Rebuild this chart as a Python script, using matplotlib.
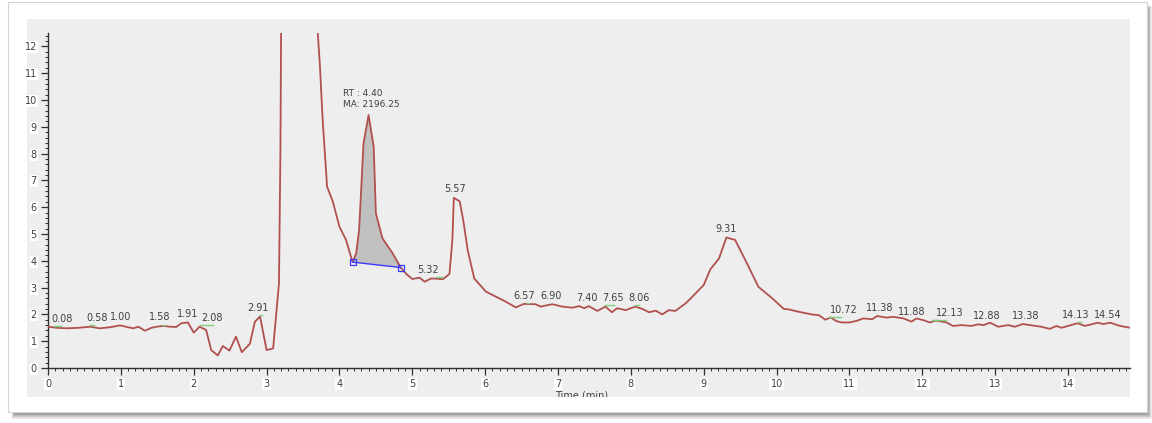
import numpy as np
import matplotlib
matplotlib.use("Agg")
import matplotlib.pyplot as plt
from matplotlib.patches import Rectangle, Polygon
from matplotlib.ticker import MultipleLocator

# Chromatogram trace (retention time in minutes, detector response)
time_min = [0.00, 0.12, 0.26, 0.42, 0.58, 0.71, 0.85, 0.99, 1.10, 1.17, 1.24, 1.33,
            1.42, 1.49, 1.58, 1.68, 1.76, 1.83, 1.92, 2.00, 2.08, 2.17, 2.24, 2.33,
            2.40, 2.49, 2.58, 2.66, 2.77, 2.84, 2.91, 3.00, 3.09, 3.17, 3.19, 3.20,
            3.69, 3.73, 3.77, 3.83, 3.91, 4.00, 4.09, 4.18, 4.23, 4.27, 4.33, 4.40,
            4.47, 4.50, 4.59, 4.73, 4.84, 4.92, 5.00, 5.10, 5.17, 5.26, 5.34, 5.42,
            5.51, 5.55, 5.57, 5.65, 5.70, 5.76, 5.85, 6.01, 6.15, 6.28, 6.42, 6.53,
            6.69, 6.76, 6.92, 7.06, 7.20, 7.29, 7.36, 7.42, 7.54, 7.65, 7.74, 7.81,
            7.93, 8.06, 8.16, 8.25, 8.34, 8.43, 8.52, 8.61, 8.75, 8.84, 9.00, 9.09,
            9.21, 9.31, 9.43, 9.57, 9.75, 9.94, 10.10, 10.16, 10.30, 10.48, 10.58,
            10.67, 10.74, 10.82, 10.89, 11.00, 11.10, 11.19, 11.31, 11.38, 11.51,
            11.60, 11.74, 11.85, 11.92, 12.02, 12.10, 12.19, 12.33, 12.42, 12.54,
            12.67, 12.77, 12.84, 12.93, 13.04, 13.18, 13.27, 13.38, 13.55, 13.63,
            13.75, 13.84, 13.91, 14.00, 14.13, 14.23, 14.41, 14.48, 14.58, 14.70,
            14.85]
response = [1.54, 1.50, 1.48, 1.50, 1.54, 1.48, 1.52, 1.59, 1.52, 1.48, 1.54, 1.39,
            1.50, 1.54, 1.57, 1.54, 1.53, 1.67, 1.70, 1.32, 1.54, 1.42, 0.67, 0.47,
            0.82, 0.65, 1.17, 0.59, 0.90, 1.73, 1.92, 0.67, 0.73, 3.16, 8.13, 13.0,
            13.0, 11.37, 9.25, 6.77, 6.20, 5.27, 4.78, 3.95, 4.28, 5.15, 8.38, 9.44,
            8.26, 5.77, 4.84, 4.28, 3.75, 3.50, 3.32, 3.37, 3.22, 3.34, 3.33, 3.31,
            3.51, 4.78, 6.35, 6.22, 5.50, 4.40, 3.34, 2.85, 2.66, 2.48, 2.26, 2.39,
            2.38, 2.29, 2.38, 2.29, 2.25, 2.31, 2.23, 2.31, 2.13, 2.29, 2.08, 2.23,
            2.16, 2.29, 2.20, 2.08, 2.14, 2.00, 2.16, 2.13, 2.41, 2.65, 3.10, 3.68,
            4.09, 4.87, 4.78, 4.03, 3.03, 2.60, 2.20, 2.19, 2.10, 2.00, 1.97,
            1.80, 1.89, 1.75, 1.70, 1.70, 1.76, 1.85, 1.82, 1.94, 1.88,
            1.91, 1.85, 1.73, 1.85, 1.78, 1.70, 1.77, 1.70, 1.57, 1.60,
            1.57, 1.63, 1.60, 1.69, 1.54, 1.60, 1.54, 1.64, 1.57, 1.54,
            1.46, 1.57, 1.50, 1.57, 1.67, 1.57, 1.69, 1.64, 1.69, 1.58,
            1.50]

# Detected peaks (retention times)
peak_rt = [0.08, 0.58, 1.00, 1.58, 1.91, 2.08, 2.91, 5.32, 5.57, 6.57, 6.90, 7.40,
           7.65, 8.06, 9.31, 10.72, 11.38, 11.88, 12.13, 12.88, 13.38, 14.13, 14.54]
peak_labels = ["0.08", "0.58", "1.00", "1.58", "1.91", "2.08", "2.91", "5.32", "5.57",
               "6.57", "6.90", "7.40", "7.65", "8.06", "9.31", "10.72", "11.38",
               "11.88", "12.13", "12.88", "13.38", "14.13", "14.54"]

# Integrated peak
integ_start, integ_end = 4.18, 4.84
integ_start_y, integ_end_y = 3.95, 3.75
integ_rt_text = "RT : 4.40"
integ_area_text = "MA: 2196.25"

# Layout tweaks for the peak labels (label shift and start-marker width, in minutes)
label_shift = [0.11, 0.09, 0.0, -0.05, 0.0, 0.17, -0.03, -0.10, 0.02, -0.04, 0.0, 0.0,
               0.10, 0.05, 0.0, 0.20, 0.03, -0.02, 0.25, 0.0, 0.04, -0.02, 0.0]
marker_width = [0.10, 0.05, 0.0, 0.03, 0.0, 0.18, 0.03, 0.10, 0.0, 0.03, 0.0, 0.0,
                0.12, 0.05, 0.0, 0.17, 0.0, 0.0, 0.19, 0.0, 0.0, 0.05, 0.0]

W, H = 1152, 423
fig = plt.figure(figsize=(W / 100, H / 100), dpi=100)
fig.patch.set_facecolor("white")


def frect(x0, y0, x1, y1, **kw):
    r = Rectangle((x0 / W, 1 - y1 / H), (x1 - x0) / W, (y1 - y0) / H,
                  transform=fig.transFigure, **kw)
    fig.add_artist(r)
    return r


# Card shadow
for i in range(6):
    frect(8 + 4 + i * 0.3, 2 + 4 + i * 0.3, 1147 + 5 - i * 0.8, 412 + 7 - i * 0.9,
          facecolor="black", edgecolor="none", alpha=0.07, zorder=0)
# Card
frect(8, 2, 1147, 412, facecolor="white", edgecolor="#d4d4d4", linewidth=0.8, zorder=1)
# Plot panel
panel = frect(27, 19, 1130, 397, facecolor="#eeeeee", edgecolor="none", zorder=2)

ax = fig.add_axes([48 / W, 1 - 368 / H, (1130 - 48) / W, (368 - 33) / H], zorder=3)
ax.set_facecolor("#eeeeee")
ax.set_xlim(0, 14.85)
ax.set_ylim(0, 12.5)
for s in ("top", "right"):
    ax.spines[s].set_visible(False)
for s in ("left", "bottom"):
    ax.spines[s].set_color("#303030")
    ax.spines[s].set_linewidth(1.0)

ax.xaxis.set_major_locator(MultipleLocator(1))
ax.xaxis.set_minor_locator(MultipleLocator(0.1))
ax.yaxis.set_major_locator(MultipleLocator(1))
ax.yaxis.set_minor_locator(MultipleLocator(0.2))
ax.tick_params(which="major", length=5, width=0.9, color="#303030",
               labelsize=7, labelcolor="#404040", pad=3)
ax.tick_params(which="minor", length=2.5, width=0.7, color="#303030")
for lab in ax.get_xticklabels() + ax.get_yticklabels():
    lab.set_bbox(dict(facecolor="white", edgecolor="none", pad=0.8))

t = np.array(time_min)
r = np.array(response)

# Integrated area under the 4.40 peak
mask = (t > integ_start) & (t < integ_end)
poly = [(integ_start, integ_start_y)] + list(zip(t[mask], r[mask])) + \
       [(integ_end, integ_end_y)]
ax.add_patch(Polygon(poly, closed=True, facecolor="#c0c0c0", edgecolor="none", zorder=2))

ax.plot(t, r, color="#b0504f", linewidth=1.3, zorder=4)

ax.plot([integ_start, integ_end], [integ_start_y, integ_end_y], color="#3a3aff",
        linewidth=1.0, marker="s", markersize=4.5, markerfacecolor="none",
        markeredgecolor="#3a3aff", markeredgewidth=0.9, zorder=5)

ax.text(4.05, 9.68, integ_rt_text + "\n" + integ_area_text, fontsize=6.5,
        color="#404040", ha="left", va="bottom", linespacing=1.25, zorder=6)

# Peak markers and labels
for rt, lab, dx, w in zip(peak_rt, peak_labels, label_shift, marker_width):
    yv = np.interp(rt, t, r)
    if w > 0:
        ax.plot([rt, rt + w], [yv + 0.05, yv + 0.05], color="#7fd07f", linewidth=1.0,
                zorder=5)
    ax.annotate(lab, (rt + dx, yv), xytext=(0, 2.5), textcoords="offset points",
                ha="center", va="bottom", fontsize=7, color="#404040", zorder=6)

xl = fig.text(582 / W, 1 - 395 / H, "Time (min)", ha="center", va="center",
              fontsize=7, color="#404040", zorder=4)
xl.set_clip_path(panel)

fig.savefig("out.png", dpi=100, facecolor=fig.get_facecolor())
